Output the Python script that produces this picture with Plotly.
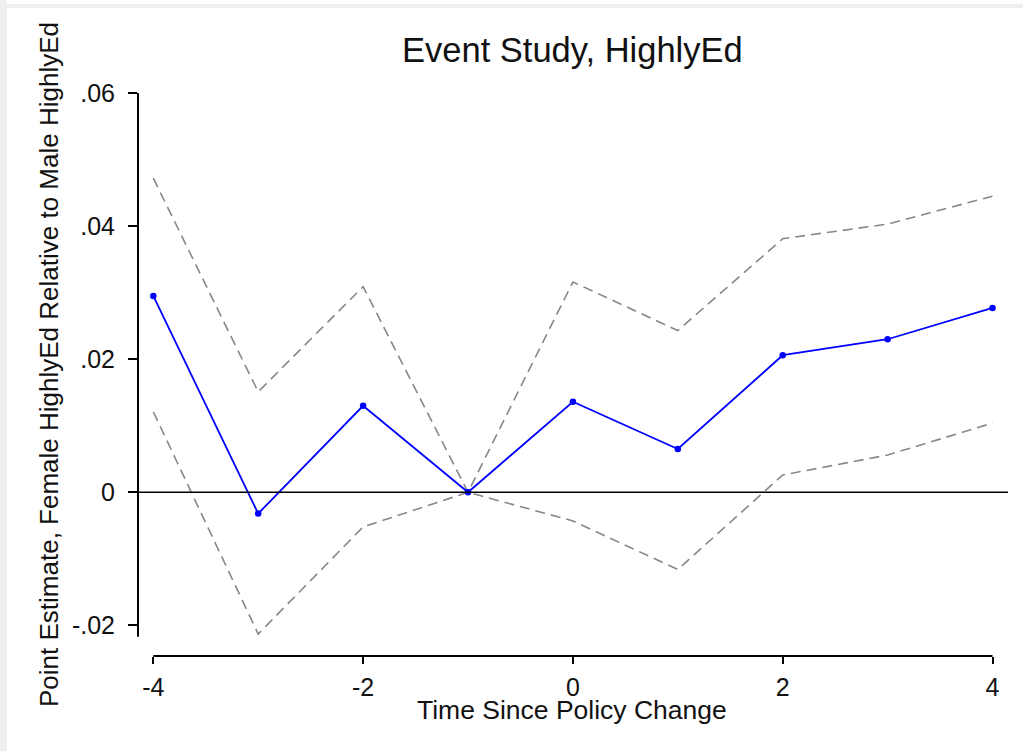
import plotly.graph_objects as go

# ---- data ----
periods = [-4, -3, -2, -1, 0, 1, 2, 3, 4]
point_est = [0.0295, -0.0032, 0.0130, 0.0, 0.0136, 0.0065, 0.0206, 0.0230, 0.0277]
ci_upper = [0.0472, 0.0151, 0.0309, 0.0, 0.0316, 0.0243, 0.0381, 0.0403, 0.0445]
ci_lower = [0.0121, -0.0213, -0.0052, 0.0, -0.0043, -0.0116, 0.0026, 0.0056, 0.0104]
x_ticks = [-4, -2, 0, 2, 4]
x_tick_labels = ["-4", "-2", "0", "2", "4"]
y_ticks = [-0.02, 0, 0.02, 0.04, 0.06]
y_tick_labels = ["-.02", "0", ".02", ".04", ".06"]

title_text = "Event Study, HighlyEd"
x_title = "Time Since Policy Change"
y_title = "Point Estimate, Female HighlyEd Relative to Male HighlyEd"

W, H = 1023, 751
ML, MR, MT, MB = 138, 15, 93, 95
PW, PH = W - ML - MR, H - MT - MB


def px(xp):
    return (xp - ML) / PW


def py(yp):
    return (H - MB - yp) / PH


FONT = "Liberation Sans, Arial, sans-serif"
TXT = "#111111"

fig = go.Figure()
fig.add_trace(go.Scatter(x=periods, y=ci_upper, mode="lines",
                         line=dict(color="#878787", width=1.6, dash="10px,6px"),
                         showlegend=False, hoverinfo="skip"))
fig.add_trace(go.Scatter(x=periods, y=ci_lower, mode="lines",
                         line=dict(color="#878787", width=1.6, dash="10px,6px"),
                         showlegend=False, hoverinfo="skip"))
fig.add_trace(go.Scatter(x=periods, y=point_est, mode="lines+markers",
                         line=dict(color="#0000ff", width=1.8),
                         marker=dict(color="#0000ff", size=6.5),
                         showlegend=False))

shapes = [
    # outer light frame
    dict(type="rect", xref="paper", yref="paper", x0=px(0), x1=px(7), y0=py(751), y1=py(0),
         fillcolor="#efefef", line=dict(width=0), layer="below"),
    dict(type="rect", xref="paper", yref="paper", x0=px(0), x1=px(1023), y0=py(8), y1=py(4),
         fillcolor="#efefef", line=dict(width=0), layer="below"),
    # y axis line
    dict(type="line", xref="paper", yref="y", x0=0, x1=0, y0=-0.0217, y1=0.06,
         line=dict(color="black", width=2)),
    # x axis line
    dict(type="line", xref="x", yref="paper", x0=-4, x1=4, y0=0, y1=0,
         line=dict(color="black", width=2)),
    # zero line
    dict(type="line", xref="paper", yref="y", x0=0, x1=1, y0=0, y1=0,
         line=dict(color="black", width=1.5)),
]

annotations = [
    dict(text=title_text, xref="paper", yref="paper", x=px(572.5), y=py(50),
         xanchor="center", yanchor="middle", showarrow=False,
         font=dict(family=FONT, size=34.5, color=TXT)),
    dict(text=x_title, xref="paper", yref="paper", x=px(571.5), y=py(710),
         xanchor="center", yanchor="middle", showarrow=False,
         font=dict(family=FONT, size=26.5, color=TXT)),
    dict(text=y_title, xref="paper", yref="paper", x=px(49), y=py(365),
         xanchor="center", yanchor="middle", showarrow=False, textangle=-90,
         font=dict(family=FONT, size=26, color=TXT)),
]

fig.update_layout(
    width=W, height=H,
    margin=dict(l=ML, r=MR, t=MT, b=MB),
    paper_bgcolor="white", plot_bgcolor="white",
    shapes=shapes, annotations=annotations,
    font=dict(family=FONT, size=25, color=TXT),
    xaxis=dict(range=[-4 - 15.3 / 104.9, 4 + 15.5 / 104.9], tickvals=x_ticks,
               ticktext=x_tick_labels, ticks="outside", ticklen=7, tickwidth=2,
               tickcolor="black", showgrid=False, zeroline=False, showline=False,
               ticklabelstandoff=2, tickfont=dict(size=25, color=TXT)),
    yaxis=dict(range=[0.06 - PH / 6655.0, 0.06], tickvals=y_ticks,
               ticktext=y_tick_labels, ticks="outside", ticklen=9, tickwidth=2,
               tickcolor="black", showgrid=False, zeroline=False, showline=False,
               ticklabelstandoff=8, tickfont=dict(size=25, color=TXT)),
)

fig.write_html("out.html")
